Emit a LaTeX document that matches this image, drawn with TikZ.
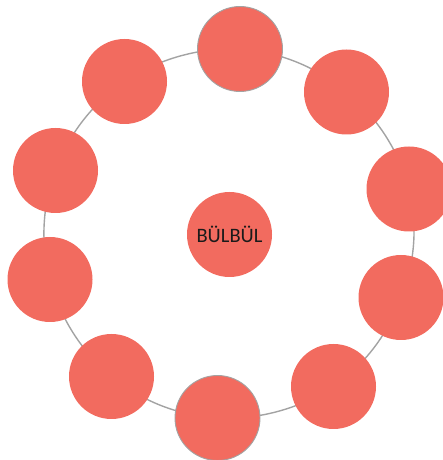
\documentclass[tikz,border=0pt]{standalone}
\usepackage{fontspec}
\setmainfont{Carlito}
\usetikzlibrary{backgrounds}
\definecolor{bubble}{HTML}{F26B5F}
\definecolor{ringgray}{HTML}{A3A3A3}
\definecolor{txt}{HTML}{1A1A1A}
\tikzset{
  bub/.style={circle, fill=bubble, minimum size=85pt, inner sep=0pt},
  bubedge/.style={bub, draw=ringgray, line width=0.9pt},
  ringline/.style={draw=ringgray, line width=1.4pt},
}
\begin{document}
\begin{tikzpicture}[x=1pt,y=1pt]
\useasboundingbox (0,0) rectangle (443,460);
\clip (0,0) rectangle (443,460);
\node[bub, text=txt, font=\fontsize{20.5}{22}\selectfont] (hub) at (229.5,225.5) {BÜLBÜL};
\node[bubedge] (n0) at (240,411) {};
\node[bub] (n1) at (346.5,368) {};
\node[bub] (n2) at (409,271) {};
\node[bub] (n3) at (401,162.5) {};
\node[bub] (n4) at (333.5,73.5) {};
\node[bubedge] (n5) at (217.5,42) {};
\node[bub] (n6) at (111.5,83.5) {};
\node[bub] (n7) at (50,180.5) {};
\node[bub] (n8) at (55.5,289.5) {};
\node[bub] (n9) at (124.5,378.5) {};
\begin{scope}[on background layer]
\foreach \i [evaluate=\i as \j using {int(mod(\i+1,10))}] in {0,...,9} {
  \draw[ringline] (n\i.center) to[bend left=18, looseness=0.872] (n\j.center);
}
\end{scope}
\end{tikzpicture}
\end{document}
